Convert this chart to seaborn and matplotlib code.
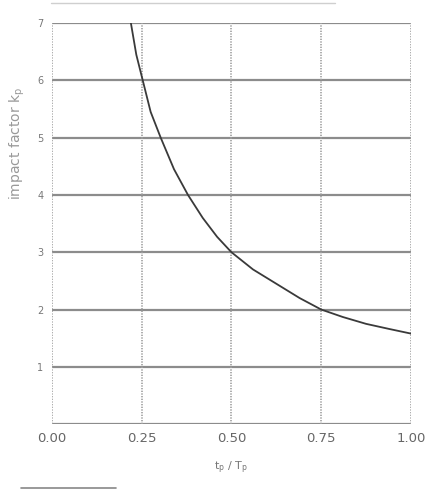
import numpy as np
import pandas as pd
import matplotlib
matplotlib.use("Agg")
import matplotlib.pyplot as plt
import seaborn as sns
from matplotlib.lines import Line2D

# values
tp_ratio = [0.22, 0.235, 0.253, 0.275, 0.303, 0.34, 0.379, 0.42, 0.46, 0.50,
            0.56, 0.625, 0.69, 0.75, 0.81, 0.875, 0.94, 1.00]
impact_k = [7.0, 6.45, 6.0, 5.45, 5.0, 4.45, 4.0, 3.6, 3.27, 3.0,
            2.7, 2.45, 2.2, 2.0, 1.87, 1.75, 1.66, 1.58]
x_ticks = [0.00, 0.25, 0.50, 0.75, 1.00]
y_ticks = [1, 2, 3, 4, 5, 6, 7]

df = pd.DataFrame({"ratio": tp_ratio, "k": impact_k})

sns.set_style("white")
plt.rcParams['font.family'] = ['DejaVu Sans']

fig = plt.figure(figsize=(4.29, 4.92), dpi=100)
ax = fig.add_axes([0.121, 0.138, 0.837, 0.815])

sns.lineplot(data=df, x="ratio", y="k", color="#3a3a3a", linewidth=1.3, ax=ax)

ax.set_xlim(0, 1.0)
ax.set_ylim(0, 7)
ax.set_xticks(x_ticks)
ax.set_xticklabels([f"{v:.2f}" for v in x_ticks], color="#666666", fontsize=9.5)
ax.set_yticks([0] + y_ticks)
ax.set_yticklabels([""] + [str(v) for v in y_ticks], color="#777777", fontsize=7)

for s in ax.spines.values():
    s.set_visible(False)

# horizontal grid solid, vertical grid dotted
for v in [0] + y_ticks:
    ax.axhline(v, color="#8c8c8c", lw=1.6, zorder=0)
for v in x_ticks:
    ax.axvline(v, color="#a0a0a0", lw=1.2, ls=(0, (0.8, 0.8)), zorder=0)

ax.tick_params(axis="both", length=3, width=1, color="#666666", pad=3)

ax.set_xlabel("t$_\\mathregular{p}$ / T$_\\mathregular{p}$", color="#777777", fontsize=8, labelpad=10)
ax.set_ylabel("impact factor k$_\\mathregular{p}$", color="#999999", fontsize=10, labelpad=8)
ax.yaxis.set_label_coords(-0.07, 0.70)

# scan edge marks
fig.add_artist(Line2D([0.05, 0.27], [0.008, 0.008], color="#555555", lw=1.2, alpha=0.7))
fig.add_artist(Line2D([0.12, 0.78], [0.994, 0.994], color="#bbbbbb", lw=1.0, alpha=0.7))

fig.savefig("out.png", dpi=100)
